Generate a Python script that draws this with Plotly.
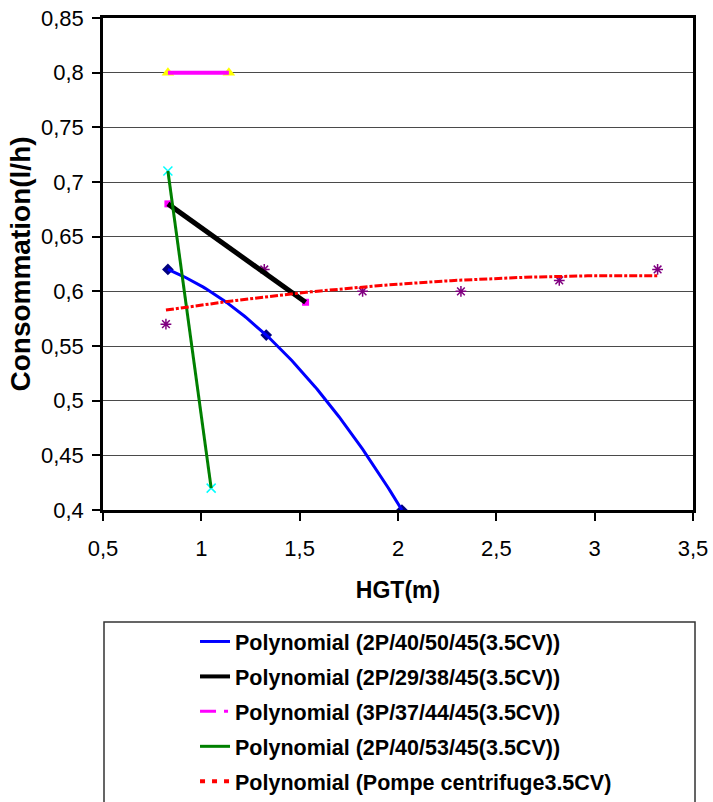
import numpy as np
import plotly.graph_objects as go

# ---- data ----
x_s1 = [0.83, 1.33, 2.02]
y_s1 = [0.62, 0.56, 0.40]
x_s2 = [0.83, 1.53]
y_s2 = [0.68, 0.59]
x_s3 = [0.83, 1.14]
y_s3 = [0.80, 0.80]
x_s4 = [0.83, 1.05]
y_s4 = [0.71, 0.42]
x_s5 = [0.82, 1.32, 1.82, 2.32, 2.82, 3.32]
y_s5 = [0.57, 0.62, 0.60, 0.60, 0.61, 0.62]

names = [
    "Polynomial (2P/40/50/45(3.5CV))",
    "Polynomial (2P/29/38/45(3.5CV))",
    "Polynomial (3P/37/44/45(3.5CV))",
    "Polynomial (2P/40/53/45(3.5CV))",
    "Polynomial (Pompe centrifuge3.5CV)",
]

x_tickvals = [0.5, 1.0, 1.5, 2.0, 2.5, 3.0, 3.5]
x_ticktext = ["0,5", "1", "1,5", "2", "2,5", "3", "3,5"]
y_tickvals = [0.40, 0.45, 0.50, 0.55, 0.60, 0.65, 0.70, 0.75, 0.80, 0.85]
y_ticktext = ["0,4", "0,45", "0,5", "0,55", "0,6", "0,65", "0,7", "0,75", "0,8", "0,85"]

FONT = "Liberation Sans, Arial, sans-serif"


def trend(xs, ys, n=120):
    deg = min(2, len(xs) - 1)
    c = np.polyfit(xs, ys, deg)
    xx = np.linspace(min(xs), max(xs), n)
    return xx, np.polyval(c, xx)


fig = go.Figure()

# data markers
marker_specs = [
    (x_s1, y_s1, dict(symbol="diamond", color="#000080", size=9)),
    (x_s2, y_s2, dict(symbol="square", color="#FF00FF", size=7)),
    (x_s3, y_s3, dict(symbol="triangle-up", color="#FFFF00", size=11)),
    (x_s4, y_s4, dict(symbol="x-thin-open", color="#00FFFF", size=9, line=dict(color="#00FFFF", width=1.5))),
    (x_s5, y_s5, dict(symbol="asterisk-open", color="#800080", size=9, line=dict(color="#800080", width=1.5))),
]
for xs, ys, mk in marker_specs:
    fig.add_trace(go.Scatter(x=xs, y=ys, mode="markers", marker=mk, showlegend=False, hoverinfo="skip"))

# trendlines
line_specs = [
    (x_s1, y_s1, dict(color="#0000FF", width=3)),
    (x_s2, y_s2, dict(color="#000000", width=5)),
    (x_s3, y_s3, dict(color="#FF00FF", width=4)),
    (x_s4, y_s4, dict(color="#008000", width=3)),
    (x_s5, y_s5, dict(color="#FF0000", width=3, dash="8px,2px,3px,2px")),
]
for xs, ys, ln in line_specs:
    xx, yy = trend(xs, ys)
    fig.add_trace(go.Scatter(x=xx, y=yy, mode="lines", line=ln, showlegend=False, hoverinfo="skip"))

# legend entries
legend_lines = [
    dict(color="#0000FF", width=3),
    dict(color="#000000", width=4),
    dict(color="#FF00FF", width=3, dash="16px,8px,4px,8px"),
    dict(color="#008000", width=3),
    dict(color="#FF0000", width=4, dash="5px,7px"),
]
for i, (nm, ln) in enumerate(zip(names, legend_lines)):
    fig.add_trace(go.Scatter(x=[None], y=[None], mode="lines", line=ln, name=nm,
                             legendgroup="g%d" % i))

fig.update_layout(
    width=713,
    height=802,
    margin=dict(l=103, r=20, t=18, b=292, autoexpand=False),
    plot_bgcolor="white",
    paper_bgcolor="white",
    separators=", ",
    font=dict(family=FONT, color="black"),
    showlegend=True,
    legend=dict(
        x=0.5136, xanchor="center", y=-0.2256, yanchor="top",
        font=dict(family=FONT, size=21.5, weight="bold", color="black"),
        bgcolor="rgba(0,0,0,0)", borderwidth=0, tracegroupgap=4,
    ),
    shapes=[dict(type="rect", xref="paper", yref="paper",
                 x0=0.0017, x1=1.0034, y0=-0.64, y1=-0.2276,
                 line=dict(color="#333333", width=1.5), layer="below")],
)

fig.update_xaxes(
    range=[0.5, 3.5], tickmode="array", tickvals=x_tickvals, ticktext=x_ticktext,
    ticks="outside", ticklen=8, tickwidth=1.5, tickcolor="black",
    tickfont=dict(family=FONT, size=22, color="black"),
    showline=True, linecolor="black", linewidth=2.5, mirror=True,
    showgrid=False, zeroline=False, ticklabelstandoff=9,
    title=dict(text="HGT(m)", font=dict(family=FONT, size=23, weight="bold", color="black"), standoff=22),
)
fig.update_yaxes(
    range=[0.4, 0.85], tickmode="array", tickvals=y_tickvals, ticktext=y_ticktext,
    ticks="outside", ticklen=8, tickwidth=1.5, tickcolor="black",
    tickfont=dict(family=FONT, size=22, color="black"),
    showline=True, linecolor="black", linewidth=2.5, mirror=True,
    showgrid=True, gridcolor="#4a4a4a", gridwidth=1, zeroline=False,
    ticklabelstandoff=4,
    title=dict(text="Consommation(l/h)", font=dict(family=FONT, size=28, weight="bold", color="black"), standoff=3),
)

fig.write_html("out.html")
